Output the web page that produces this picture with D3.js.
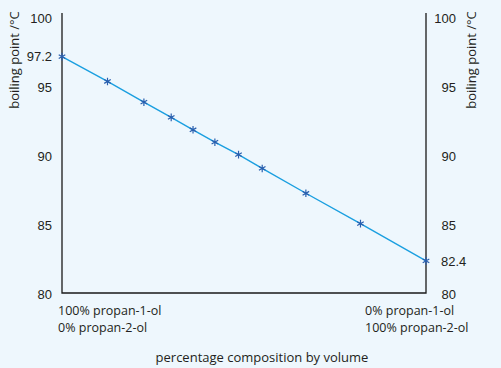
<!DOCTYPE html>
<html>
<head>
<meta charset="utf-8">
<script src="https://cdn.jsdelivr.net/npm/d3@7"></script>
<style>
  html, body { margin: 0; padding: 0; background: #eef7fd; }
  svg { display: block; font-family: "Open Sans", sans-serif; }
  text { fill: #231f20; }
</style>
</head>
<body>
<div id="chart"></div>
<script>
// percentage of propan-2-ol by volume (0 = pure propan-1-ol)
const composition = [0, 12.5, 22.5, 30, 36, 42, 48.5, 55, 67, 82, 100];
// boiling point in °C for each mixture
const boilingPoint = [97.2, 95.4, 93.9, 92.8, 91.9, 91.0, 90.1, 89.1, 87.3, 85.1, 82.4];

const leftTicks = [80, 85, 90, 95, 97.2, 100];
const rightTicks = [80, 85, 90, 95, 100];
const rightMarks = [82.4];

const width = 501, height = 368;

const svg = d3.select('#chart')
    .append('svg')
    .attr('width', width)
    .attr('height', height);

const x = d3.scaleLinear().domain([0, 100]).range([62, 426]);
const y = d3.scaleLinear().domain([80, 100]).range([294, 18]);

// frame: left, bottom, right (no top)
const frameTop = y(100) - 5;
svg.append('path')
    .attr('d', `M${x(0)},${frameTop}V${y(80) - 1}H${x(100)}V${frameTop}`)
    .attr('fill', 'none')
    .attr('stroke', '#1a1a1a')
    .attr('stroke-width', 1.3);

// left tick labels
const leftAxis = svg.append('g')
    .attr('transform', `translate(${x(0)},0)`)
    .call(d3.axisLeft(y).tickValues(leftTicks).tickSize(0).tickPadding(10).tickFormat(d => String(d)));
leftAxis.select('.domain').remove();
leftAxis.selectAll('text').attr('font-size', 13).attr('font-family', null).style('fill', '#231f20');

// right tick labels (right aligned)
const rightAxis = svg.append('g')
    .attr('transform', `translate(${x(100)},0)`)
    .call(d3.axisRight(y).tickValues(rightTicks).tickSize(0).tickPadding(30).tickFormat(d => String(d)));
rightAxis.select('.domain').remove();
rightAxis.selectAll('text').attr('font-size', 13).attr('font-family', null)
    .attr('text-anchor', 'end').style('fill', '#231f20');

// 82.4 end value label
const rightMark = svg.append('g')
    .attr('transform', `translate(${x(100)},0)`)
    .call(d3.axisRight(y).tickValues(rightMarks).tickSize(0).tickPadding(15).tickFormat(d => String(d)));
rightMark.select('.domain').remove();
rightMark.selectAll('text').attr('font-size', 13).attr('font-family', null).style('fill', '#231f20');

// line
const points = composition.map((c, i) => [c, boilingPoint[i]]);
svg.append('path')
    .datum(points)
    .attr('d', d3.line().x(d => x(d[0])).y(d => y(d[1])))
    .attr('fill', 'none')
    .attr('stroke', '#1a9fe0')
    .attr('stroke-width', 1.4);

// asterisk markers
svg.append('g')
    .selectAll('path')
    .data(points)
    .enter()
    .append('path')
    .attr('transform', d => `translate(${x(d[0])},${y(d[1])})`)
    .attr('d', d3.symbol(d3.symbolAsterisk, 40))
    .attr('fill', 'none')
    .attr('stroke', '#2a5fae')
    .attr('stroke-width', 1.2);

// axis titles
const yTitle = 'boiling point /°C';
svg.append('text')
    .attr('transform', 'translate(19,60) rotate(-90)')
    .attr('text-anchor', 'middle')
    .attr('font-size', 13)
    .text(yTitle);
svg.append('text')
    .attr('transform', 'translate(476,60) rotate(-90)')
    .attr('text-anchor', 'middle')
    .attr('font-size', 13)
    .text(yTitle);

// end composition labels
const leftEnd = ['100% propan-1-ol', '0% propan-2-ol'];
const rightEnd = ['0% propan-1-ol', '100% propan-2-ol'];
[[leftEnd, 58], [rightEnd, 365]].forEach(([lines, lx]) => {
    svg.append('g').selectAll('text')
        .data(lines)
        .enter()
        .append('text')
        .attr('x', lx)
        .attr('y', (d, i) => 315 + i * 17)
        .attr('font-size', 12.5)
        .text(d => d);
});

svg.append('text')
    .attr('x', 262)
    .attr('y', 362)
    .attr('text-anchor', 'middle')
    .attr('font-size', 13)
    .text('percentage composition by volume');
</script>
</body>
</html>
